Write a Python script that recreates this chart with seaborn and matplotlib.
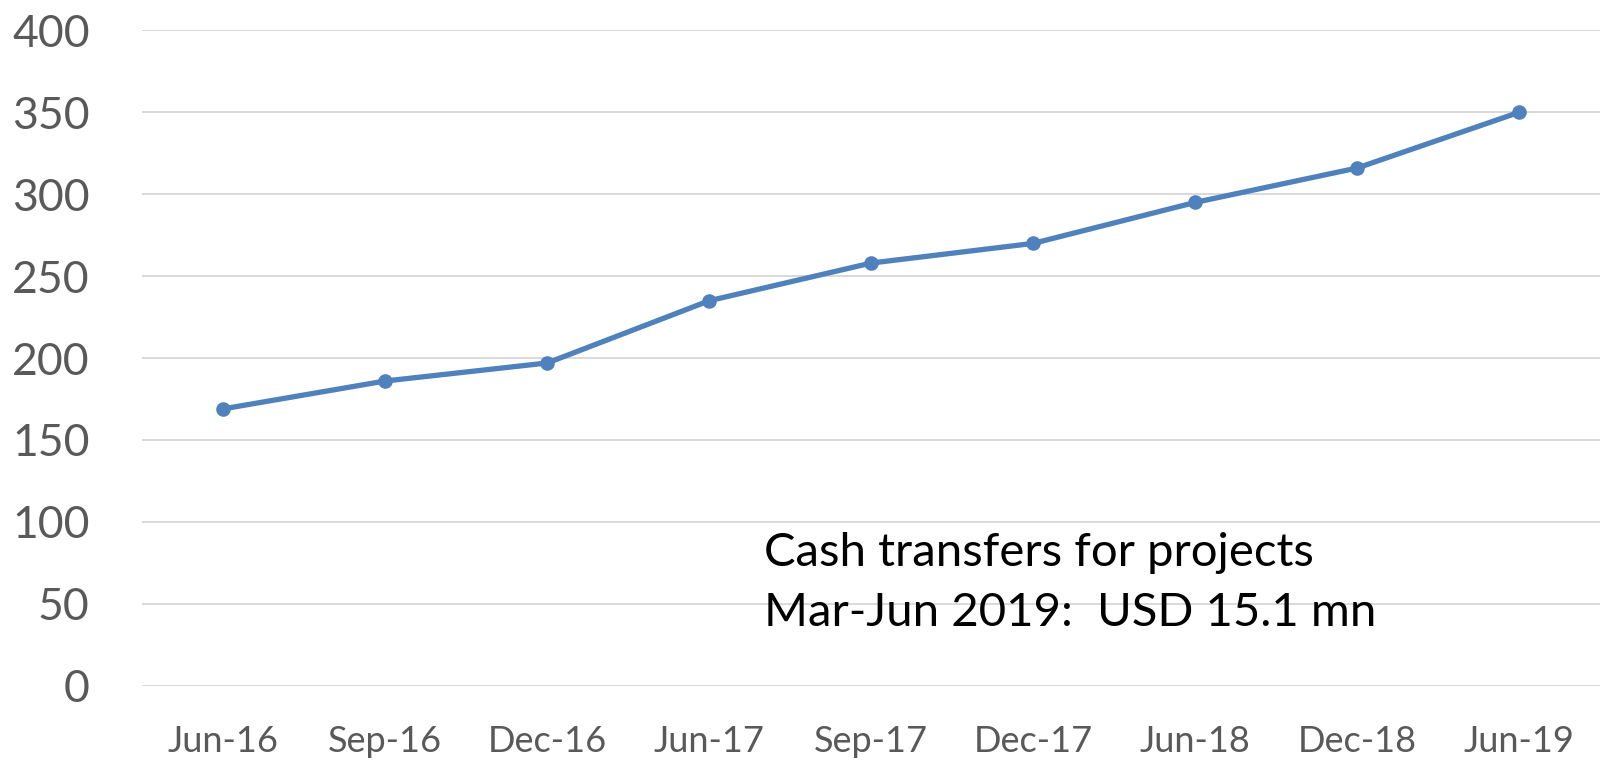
import matplotlib
matplotlib.use("Agg")
import matplotlib.pyplot as plt
import pandas as pd
import seaborn as sns

# values
periods = ["Jun-16", "Sep-16", "Dec-16", "Jun-17", "Sep-17",
           "Dec-17", "Jun-18", "Dec-18", "Jun-19"]
values = [169, 186, 197, 235, 258, 270, 295, 316, 350]
y_ticks = [0, 50, 100, 150, 200, 250, 300, 350, 400]
note_lines = ["Cash transfers for projects", "Mar-Jun 2019:  USD 15.1 mn"]

df = pd.DataFrame({"Period": periods, "Value": values})

sns.set_style("white")
plt.rcParams["font.family"] = ["Lato", "DejaVu Sans"]

fig = plt.figure(figsize=(16, 7.61), dpi=100)
ax = fig.add_axes([0.089, 0.099, 0.911, 0.861])

sns.lineplot(data=df, x="Period", y="Value", ax=ax, color="#4F81BD",
             linewidth=3.8, marker="o", markersize=10.5, markeredgewidth=0,
             sort=False, zorder=3)

ax.set_ylim(0, 400)
ax.set_xlim(-0.5, len(periods) - 0.5)
ax.set_yticks(y_ticks)
ax.yaxis.grid(True, color="#D9D9D9", linewidth=1.4)
ax.set_axisbelow(True)
for s in ax.spines.values():
    s.set_visible(False)
ax.tick_params(axis="y", length=0, labelsize=32, labelcolor="#595959", pad=38)
ax.tick_params(axis="x", length=0, labelsize=26, labelcolor="#595959", pad=28)
ax.set_xlabel("")
ax.set_ylabel("")

ax.text(3.34, 94, "\n".join(note_lines), fontsize=34, color="black",
        va="top", ha="left", linespacing=1.55)

fig.savefig("out.png", dpi=100)
